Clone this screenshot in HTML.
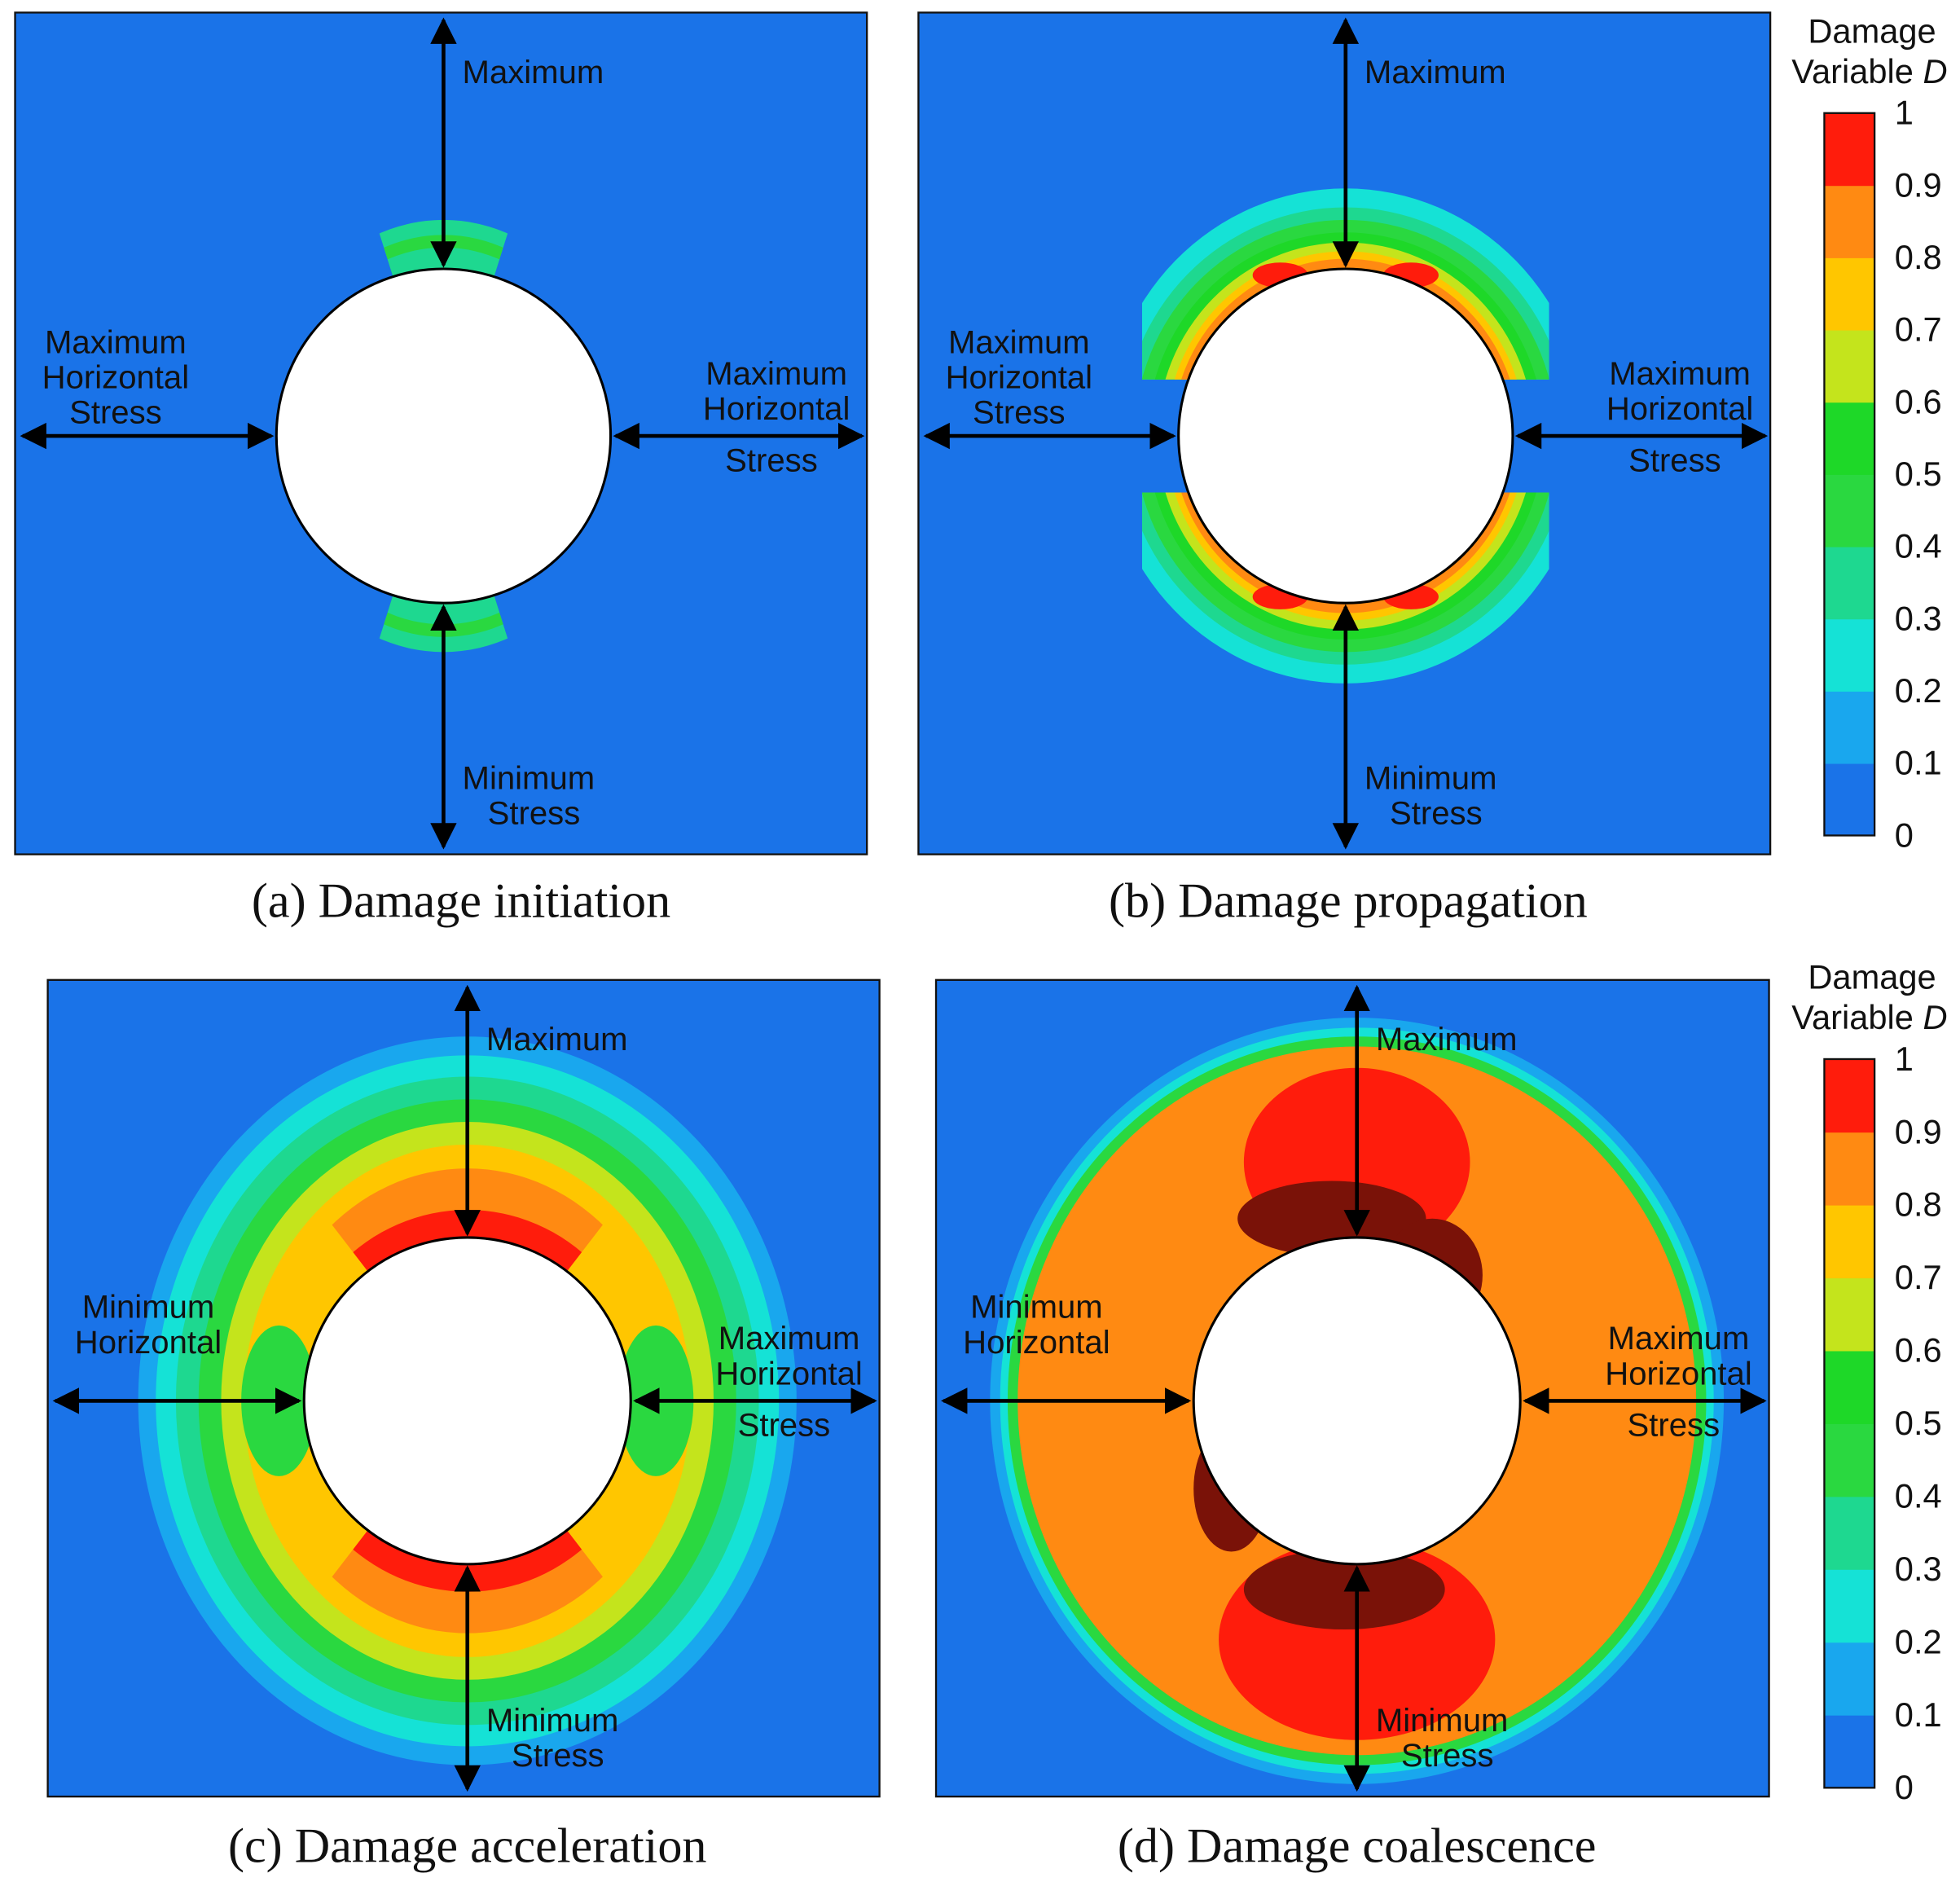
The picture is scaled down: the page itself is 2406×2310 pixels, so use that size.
<!DOCTYPE html>
<html><head><meta charset="utf-8">
<style>
html,body{margin:0;padding:0;background:#fff;}
svg{display:block;}
.lab{font-family:"Liberation Sans",sans-serif;font-size:26px;fill:#111;}
.cap{font-family:"Liberation Serif",serif;font-size:39px;fill:#111;}
.tk{font-family:"Liberation Sans",sans-serif;font-size:27px;fill:#111;}
</style></head>
<body>
<svg id="fig" width="2406" height="2310" viewBox="0 0 1560 1498" preserveAspectRatio="none" xmlns="http://www.w3.org/2000/svg">
<defs>
<marker id="ah" viewBox="0 0 10 10" refX="9" refY="5" markerWidth="7" markerHeight="7" orient="auto-start-reverse"><path d="M0,0 L10,5 L0,10 z" fill="#000"/></marker>
</defs>
<g id="root"></g>
</svg>
<script>
// Colorbar data
const bandLevels = [0,0.1,0.2,0.3,0.4,0.5,0.6,0.7,0.8,0.9];
const bandColors = ["#1a73e8","#19a7ee","#15e2d6","#1ed890","#2ad840","#1ed828","#c4e41c","#ffc600","#ff8a12","#ff1c0c"];
const tickLabels = ["0","0.1","0.2","0.3","0.4","0.5","0.6","0.7","0.8","0.9","1"];
const tickValues = [0,0.1,0.2,0.3,0.4,0.5,0.6,0.7,0.8,0.9,1];
const captions = ["(a) Damage initiation","(b) Damage propagation","(c) Damage acceleration","(d) Damage coalescence"];

const NS="http://www.w3.org/2000/svg";
const root=document.getElementById('root');
function mk(tag,attrs,parent){const e=document.createElementNS(NS,tag);for(const k in attrs)e.setAttribute(k,attrs[k]);(parent||root).appendChild(e);return e;}
function txt(x,y,s,cls,anchor,parent){const t=mk('text',{x:x,y:y,class:cls,'text-anchor':anchor||'middle'},parent);t.textContent=s;return t;}
function col(v){let i=Math.min(9,Math.floor(v*10+1e-9));return bandColors[i];}

const panels=[
 {x:12,y:10,w:678,h:670,cx:353,cy:347,r:133,name:'panel-a'},
 {x:731,y:10,w:678,h:670,cx:1071,cy:347,r:133,name:'panel-b'},
 {x:38,y:780,w:662,h:650,cx:372,cy:1115,r:130,name:'panel-c'},
 {x:745,y:780,w:663,h:650,cx:1080,cy:1115,r:130,name:'panel-d'}
];

panels.forEach((p,i)=>{
 const g=mk('g',{});
 
 
 const cid='clip'+i;
 const cp=mk('clipPath',{id:cid},g);mk('rect',{x:p.x,y:p.y,width:p.w,height:p.h},cp);
 mk('rect',{x:p.x,y:p.y,width:p.w,height:p.h,fill:bandColors[0]},g);
 const inner=mk('g',{'clip-path':'url(#'+cid+')'},g);
 const {cx,cy,r}=p;
 if(i===0){
  const wc=mk('clipPath',{id:'w0'},g);
  mk('polygon',{points:`${cx},${cy} ${cx-95},${cy-300} ${cx+95},${cy-300} ${cx},${cy} ${cx+95},${cy+300} ${cx-95},${cy+300}`},wc);
  const w=mk('g',{'clip-path':'url(#w0)'},inner);
  [[0.35,172],[0.45,160],[0.3,150]].forEach(([v,rr])=>mk('ellipse',{cx:cx,cy:cy,rx:rr*0.85,ry:rr,fill:col(v)},w));
 }
 if(i===1){
  const wc=mk('clipPath',{id:'w1'},g);
  mk('rect',{x:cx-162,y:p.y,width:324,height:cy-45-p.y},wc);
  mk('rect',{x:cx-162,y:cy+45,width:324,height:300},wc);
  const w=mk('g',{'clip-path':'url(#w1)'},inner);
  [[0.25,197,192],[0.35,182,178],[0.45,172,168],[0.55,162,158],[0.65,154,150],[0.75,147,143],[0.85,141,138]].forEach(([v,ry,rx])=>mk('ellipse',{cx:cx,cy:cy,rx:rx,ry:ry,fill:col(v)},w));
  [-1,1].forEach(s=>[-1,1].forEach(t=>mk('ellipse',{cx:cx+t*52,cy:cy+s*128,rx:22,ry:10,fill:col(0.95)},w)));
 }
 if(i===2){
  [[0.15,262,290],[0.25,248,275],[0.35,232,258],[0.45,214,240],[0.65,196,222],[0.75,178,204]].forEach(([v,rx,ry])=>mk('ellipse',{cx:cx,cy:cy,rx:rx,ry:ry,fill:col(v)},inner));
  const wc=mk('clipPath',{id:'w2'},g);
  mk('polygon',{points:`${cx},${cy} ${cx-200},${cy-260} ${cx+200},${cy-260} ${cx},${cy} ${cx+200},${cy+260} ${cx-200},${cy+260}`},wc);
  const w=mk('g',{'clip-path':'url(#w2)'},inner);
  mk('ellipse',{cx:cx,cy:cy,rx:165,ry:185,fill:col(0.85)},w);
  mk('ellipse',{cx:cx,cy:cy,rx:145,ry:152,fill:col(0.95)},w);
  [-1,1].forEach(s=>mk('ellipse',{cx:cx+s*150,cy:cy,rx:30,ry:60,fill:col(0.45)},inner));
 }
 if(i===3){
  [[0.15,292,305],[0.25,284,297],[0.45,278,290],[0.85,270,282]].forEach(([v,rx,ry])=>mk('ellipse',{cx:cx,cy:cy,rx:rx,ry:ry,fill:col(v)},inner));
  mk('ellipse',{cx:cx,cy:cy-190,rx:90,ry:75,fill:col(0.95)},inner);
  mk('ellipse',{cx:cx,cy:cy+190,rx:110,ry:80,fill:col(0.95)},inner);
  mk('ellipse',{cx:cx-20,cy:cy-145,rx:75,ry:30,fill:'#7a1208'},inner);
  mk('ellipse',{cx:cx+60,cy:cy-100,rx:40,ry:45,fill:'#7a1208'},inner);
  mk('ellipse',{cx:cx-10,cy:cy+150,rx:80,ry:32,fill:'#7a1208'},inner);
  mk('ellipse',{cx:cx-100,cy:cy+70,rx:30,ry:50,fill:'#7a1208'},inner);
 }
 mk('circle',{cx:cx,cy:cy,r:r,fill:'#fff',stroke:'#000','stroke-width':2},g);
 mk('rect',{x:p.x,y:p.y,width:p.w,height:p.h,fill:'none',stroke:'#111','stroke-width':1.5},g);
 const A=(x1,y1,x2,y2,nm)=>{const l=mk('line',{x1:x1,y1:y1,x2:x2,y2:y2,stroke:'#000','stroke-width':3,'marker-start':'url(#ah)','marker-end':'url(#ah)'},g);};
 A(cx,p.y+6,cx,cy-r-3,'arrow-top');
 A(cx,cy+r+3,cx,p.y+p.h-6,'arrow-bottom');
 A(p.x+6,cy,cx-r-4,cy,'arrow-left');
 A(cx+r+4,cy,p.x+p.w-4,cy,'arrow-right');
 const L=(x,y,s,a,nm)=>{const t=txt(x,y,s,'lab',a,g);};
 L(cx+15,p.y+56,'Maximum','start','label-top');
 L(cx+15,p.y+p.h-52,'Minimum','start','label-bottom-1');
 L(cx+72,p.y+p.h-24,'Stress','middle','label-bottom-2');
 const lw=(i<2)?'Maximum':'Minimum';
 const lx=p.x+80;
 L(lx,cy-66,lw,'middle','label-left-1');
 L(lx,cy-38,'Horizontal','middle','label-left-2');
 if(i<2)L(lx,cy-10,'Stress','middle','label-left-3');
 const rx=p.x+p.w-72;
 L(rx,cy-41,'Maximum','middle','label-right-1');
 L(rx,cy-13,'Horizontal','middle','label-right-2');
 L(rx-4,cy+28,'Stress','middle','label-right-3');
 const c=txt((i===0?367:i===1?1073:i===2?372:1080),(i<2?730:1482),captions[i],'cap','middle');
 
 
});

[[90,665],[843,1423]].forEach(([top,bot],k)=>{
 const g=mk('g',{});
 
 
 const y=v=>bot-(bot-top)*v;
 bandLevels.forEach((lv,j)=>{const rct=mk('rect',{x:1452,y:y(lv+0.1),width:40,height:y(lv)-y(lv+0.1)+0.5,fill:bandColors[j]},g);
  });
 mk('rect',{x:1452,y:top,width:40,height:bot-top,fill:'none',stroke:'#111','stroke-width':1.5},g);
 tickValues.forEach((v,j)=>{const t=txt(1508,y(v)+9,tickLabels[j],'tk','start',g);});
 const t1=txt(1490,top-56,'Damage','tk','middle',g);
 const t2=mk('text',{x:1488,y:top-24,class:'tk','text-anchor':'middle'},g);t2.innerHTML='Variable <tspan font-style="italic">D</tspan>';
 
});
</script>
</body></html>
